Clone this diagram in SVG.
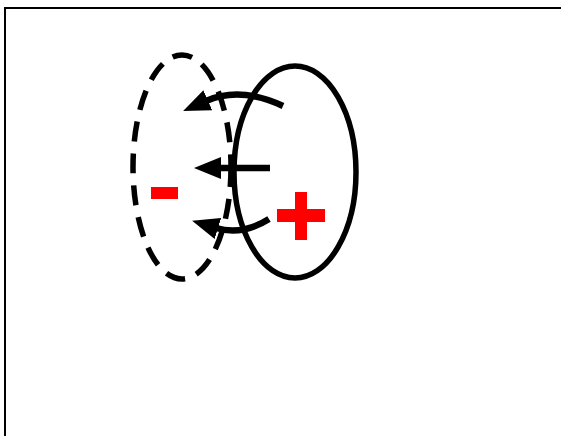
<svg xmlns="http://www.w3.org/2000/svg" width="561" height="436" viewBox="0 0 561 436">
<style>
.frame{fill:none;stroke:#000;stroke-width:2}
.loop{fill:none;stroke:#000;stroke-width:5.5}
.dash{stroke-dasharray:20 12}
.arrow{fill:none;stroke:#000;stroke-width:6.5;marker-end:url(#head)}
.sign{fill:#f00}
</style>
<defs>
<marker id="head" markerUnits="userSpaceOnUse" markerWidth="28" markerHeight="24" viewBox="0 0 28 24" refX="2" refY="12" orient="auto">
<path d="M0,1 L27,12 L0,23 z" fill="#000"/>
</marker>
</defs>
<rect class="frame" x="5" y="8" width="600" height="500"/>
<g id="negative-loop">
<ellipse class="loop dash" cx="182" cy="167" rx="49" ry="112"/>
</g>
<g id="positive-loop">
<ellipse class="loop" cx="295" cy="172" rx="61" ry="106"/>
</g>
<g id="connectors">
<path class="arrow" d="M283,106 Q240,86 206,101"/>
<path class="arrow" d="M270,168 L219,168"/>
<path class="arrow" d="M269,219 Q242,236 216,228"/>
</g>
<g id="minus">
<rect class="sign" x="151" y="187" width="27" height="12"/>
</g>
<g id="plus">
<rect class="sign" x="277" y="209" width="48" height="13"/>
<rect class="sign" x="295" y="192" width="12" height="48"/>
</g>
</svg>
